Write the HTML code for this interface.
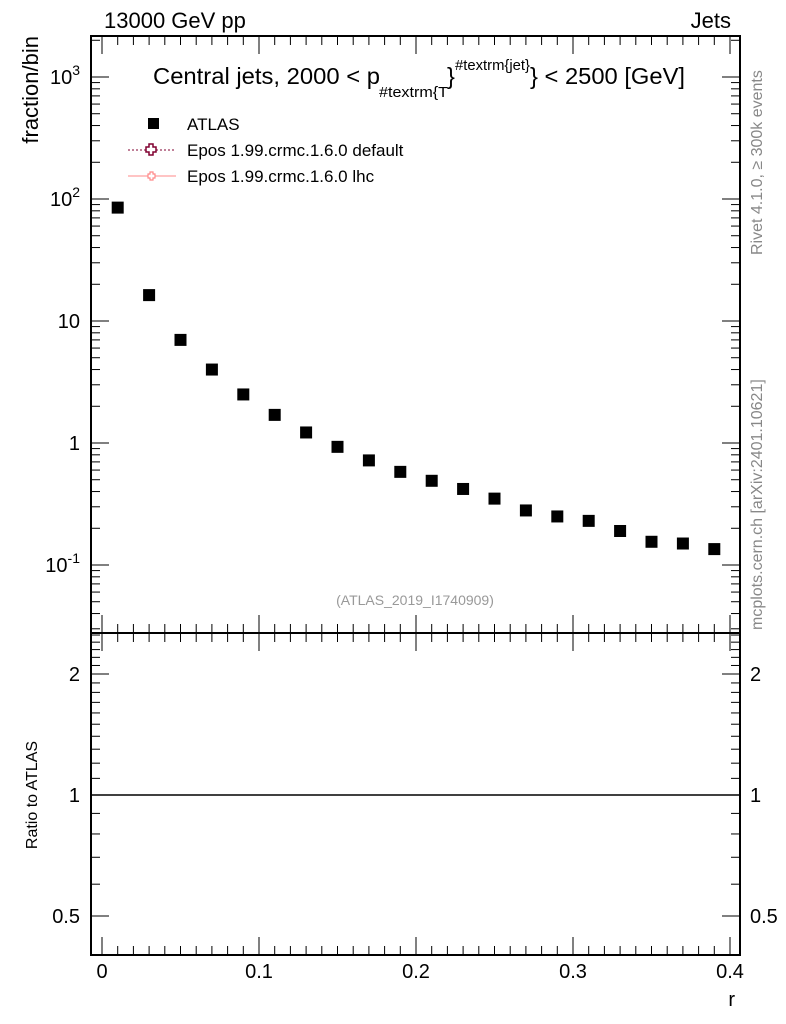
<!DOCTYPE html>
<html><head><meta charset="utf-8"><style>
body{margin:0;background:#fff;}
svg{display:block;font-family:"Liberation Sans",sans-serif;}
</style></head><body>
<svg id="c" width="786" height="1024" xmlns="http://www.w3.org/2000/svg"></svg>
<script>
const xVals=[0.01,0.03,0.05,0.07,0.09,0.11,0.13,0.15,0.17,0.19,0.21,0.23,0.25,0.27,0.29,0.31,0.33,0.35,0.37,0.39];
const yVals=[85,16.3,7,4,2.5,1.7,1.22,0.93,0.72,0.58,0.49,0.42,0.35,0.28,0.25,0.23,0.19,0.155,0.15,0.135];
const xTicks=[0,0.1,0.2,0.3,0.4];
const xTickLabels=["0","0.1","0.2","0.3","0.4"];
const yDecades=[-1,0,1,2,3];
const ratioTicks=[0.5,1,2];
const ratioTickLabels=["0.5","1","2"];

const svg=document.getElementById('c');
const NS='http://www.w3.org/2000/svg';
function el(t,a,p){const e=document.createElementNS(NS,t);for(const k in a)e.setAttribute(k,a[k]);(p||svg).appendChild(e);return e;}
const L=91,R=740,T=36,M=633,B=955;
const xs=v=>102+(v-0)*(730-102)/0.4;
const ys=v=>443-122*Math.log10(v);
const rs=v=>795-402*Math.log10(v);

let f=el('rect',{x:L,y:T,width:R-L,height:M-T,fill:'none',stroke:'#000','stroke-width':2});

f=el('rect',{x:L,y:M,width:R-L,height:B-M,fill:'none',stroke:'#000','stroke-width':2});


for(let v=0;v<=0.4001;v+=0.01){
  const x=xs(v);const major=Math.abs(v*10-Math.round(v*10))<1e-6;const len=major?18:9;
  for(const [y0,d] of [[T,1],[M,-1],[M,1],[B,-1]]){el('line',{x1:x,x2:x,y1:y0,y2:y0+d*len,stroke:'#000','stroke-width':1});}
}
xTicks.forEach((v,i)=>{const t=el('text',{x:xs(v),y:978,'font-size':20,'text-anchor':'middle'});t.textContent=xTickLabels[i];
});
let t=el('text',{x:735,y:1006,'font-size':20,'text-anchor':'end'});t.textContent='r';


for(let d=-2;d<=3;d++){for(let m=1;m<10;m++){const v=m*Math.pow(10,d);const y=ys(v);if(y<T||y>M)continue;
 const len=m==1?18:9;el('line',{x1:L,x2:L+len,y1:y,y2:y,stroke:'#000'});el('line',{x1:R,x2:R-len,y1:y,y2:y,stroke:'#000'});}}
yDecades.forEach(d=>{const y=ys(Math.pow(10,d));let tx=el('text',{x:80,y:y+7,'font-size':20,'text-anchor':'end'});
 if(d==0)tx.textContent='1';else if(d==1)tx.textContent='10';else{tx.textContent='10';const s=el('tspan',{dy:-9,'font-size':14},tx);s.textContent=d;}
 });
t=el('text',{x:0,y:0,'font-size':22,'text-anchor':'end',transform:'translate(38,36) rotate(-90)'});t.textContent='fraction/bin';


for(let v=0.4;v<=2.55;v+=0.1){const y=rs(v);if(y<M||y>B)continue;const major=[0.5,1,2].some(q=>Math.abs(q-v)<1e-6);const len=major?18:9;
 el('line',{x1:L,x2:L+len,y1:y,y2:y,stroke:'#000'});el('line',{x1:R,x2:R-len,y1:y,y2:y,stroke:'#000'});}
ratioTicks.forEach((v,i)=>{const y=rs(v);
 let a=el('text',{x:80,y:y+7,'font-size':20,'text-anchor':'end'});a.textContent=ratioTickLabels[i];
 
 a=el('text',{x:750,y:y+7,'font-size':20});a.textContent=ratioTickLabels[i];
 });
let ln=el('line',{x1:L,x2:R,y1:rs(1),y2:rs(1),stroke:'#000','stroke-width':1.5});

t=el('text',{x:0,y:0,'font-size':16,'text-anchor':'middle',transform:'translate(37,795) rotate(-90)'});t.textContent='Ratio to ATLAS';


xVals.forEach((v,i)=>{const p=el('rect',{x:xs(v)-6,y:ys(yVals[i])-6,width:12,height:12,fill:'#000'});
 });

t=el('text',{x:104,y:28,'font-size':22});t.textContent='13000 GeV pp';
t=el('text',{x:731,y:28,'font-size':22,'text-anchor':'end'});t.textContent='Jets';
var g=el('g',{});
t=el('text',{x:153,y:84,'font-size':23.5,textLength:227,lengthAdjust:'spacingAndGlyphs'},g);t.textContent='Central jets, 2000 < p';
t=el('text',{x:379,y:97,'font-size':15,textLength:69,lengthAdjust:'spacingAndGlyphs'},g);t.textContent='#textrm{T';
t=el('text',{x:447,y:84,'font-size':23.5},g);t.textContent='}';
t=el('text',{x:455,y:70,'font-size':15,textLength:75,lengthAdjust:'spacingAndGlyphs'},g);t.textContent='#textrm{jet}';
t=el('text',{x:530,y:84,'font-size':23.5,textLength:155,lengthAdjust:'spacingAndGlyphs'},g);t.textContent='} < 2500 [GeV]';

g=el('g',{});
el('rect',{x:148,y:118,width:11,height:11,fill:'#000'},g);
t=el('text',{x:187,y:130,'font-size':17},g);t.textContent='ATLAS';
el('line',{x1:128,x2:176,y1:150,y2:150,stroke:'#800030','stroke-dasharray':'2,2'},g);
el('path',{d:'M149 144h4v3h3v5h-3v3h-4v-3h-3v-5h3z',fill:'#fff',stroke:'#800030','stroke-width':1.5},g);
t=el('text',{x:187,y:156,'font-size':17},g);t.textContent='Epos 1.99.crmc.1.6.0 default';
el('line',{x1:128,x2:176,y1:176,y2:176,stroke:'#f88'},g);
el('path',{d:'M150 172h3v2h2v4h-2v2h-3v-2h-2v-4h2z',fill:'#fff',stroke:'#f88','stroke-width':1.2},g);
t=el('text',{x:187,y:182,'font-size':17},g);t.textContent='Epos 1.99.crmc.1.6.0 lhc';

t=el('text',{x:415,y:605,'font-size':14,fill:'#999','text-anchor':'middle'});t.textContent='(ATLAS_2019_I1740909)';

t=el('text',{x:0,y:0,'font-size':16,fill:'#888',transform:'translate(762,255) rotate(-90)'});t.textContent='Rivet 4.1.0, ≥ 300k events';

t=el('text',{x:0,y:0,'font-size':16,fill:'#888',transform:'translate(762,630) rotate(-90)'});t.textContent='mcplots.cern.ch [arXiv:2401.10621]';

</script>
</body></html>
